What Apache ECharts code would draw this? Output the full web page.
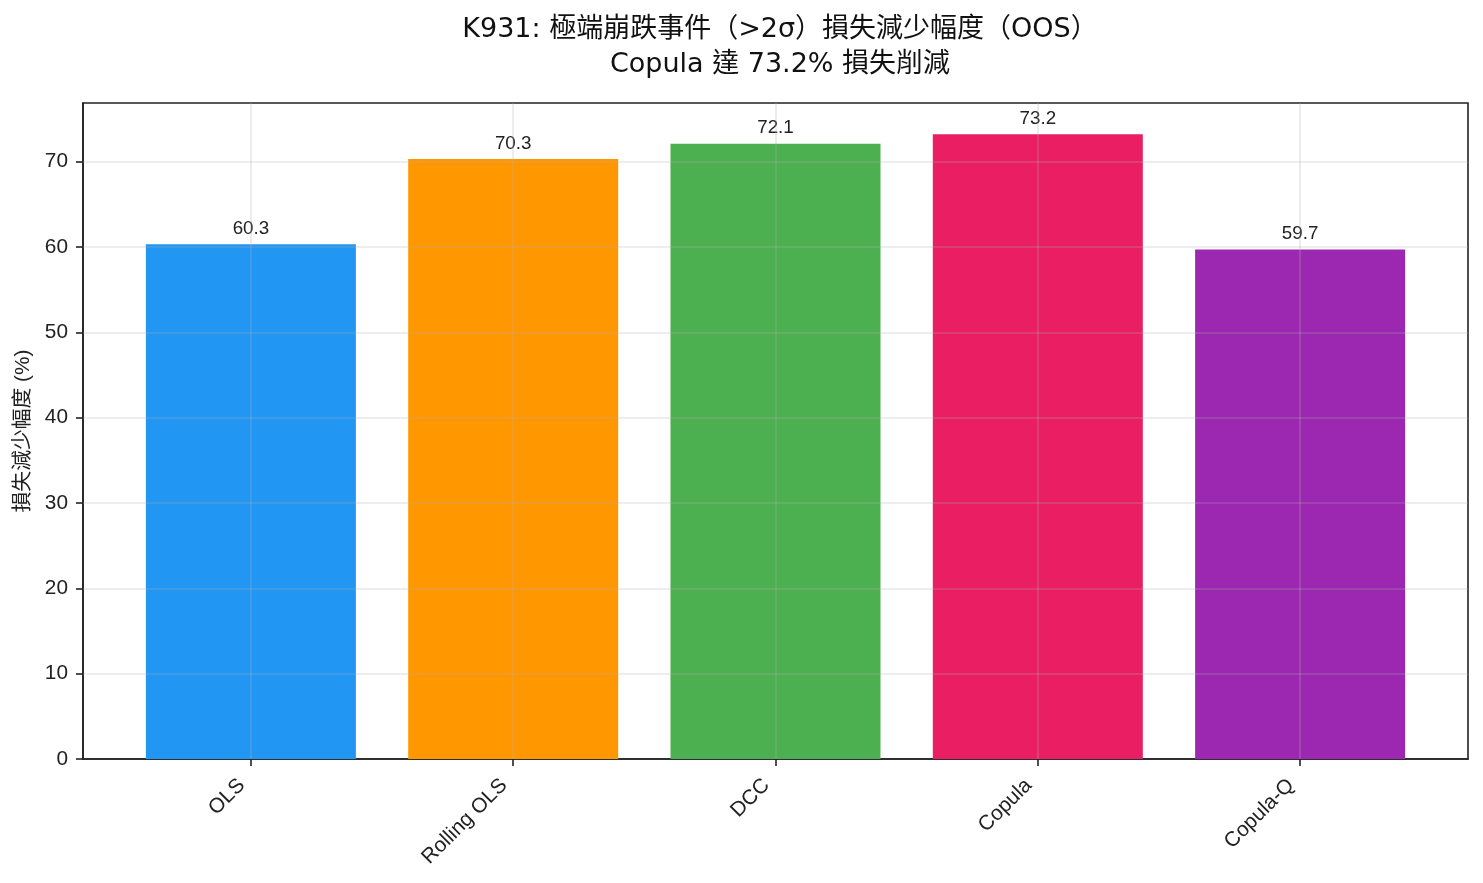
<!DOCTYPE html>
<html>
<head>
<meta charset="utf-8">
<script src="https://cdn.jsdelivr.net/npm/echarts@6/dist/echarts.min.js"></script>
<style>html,body{margin:0;padding:0;background:#fff}#c{width:1483px;height:883px}</style>
</head>
<body>
<div id="c"></div>
<script>
const categories = ['OLS', 'Rolling OLS', 'DCC', 'Copula', 'Copula-Q'];
const values = [60.3, 70.3, 72.1, 73.2, 59.7];
const barColors = ['#2196F3', '#FF9800', '#4CAF50', '#E91E63', '#9C27B0'];
const yTicks = [0, 10, 20, 30, 40, 50, 60, 70];
const titleText = 'K931: 極端崩跌事件（>2σ）損失減少幅度（OOS）\nCopula 達 73.2% 損失削減';
const yLabel = '損失減少幅度 (%)';

const FONT = '"Liberation Sans", "Noto Sans CJK TC", sans-serif';
const TITLE_FONT = '"DejaVu Sans", "Noto Sans CJK TC", sans-serif';
const xIdx = categories.map((_, i) => i);
const yMax = Math.max(...values) * 1.05;
const gridColor = 'rgba(176,176,176,0.3)';
const AX = '#222';

const chart = echarts.init(document.getElementById('c'), null, {renderer: 'canvas'});
chart.setOption({
  animation: false,
  backgroundColor: '#fff',
  textStyle: {fontFamily: FONT},
  title: {
    text: titleText,
    left: 775, top: 7, textAlign: 'center',
    textStyle: {fontFamily: TITLE_FONT, fontSize: 27, fontWeight: 'normal', color: '#111', lineHeight: 35}
  },
  grid: {left: 83, right: 15, top: 103, bottom: 124, outerBoundsMode: 'none', containLabel: false,
    show: true, borderColor: AX, borderWidth: 1.6, backgroundColor: 'transparent'},
  xAxis: {
    type: 'value', min: -0.64, max: xIdx.length - 1 + 0.64,
    splitLine: {show: false},
    axisLine: {show: true, onZero: false, lineStyle: {color: AX, width: 1.6}},
    axisTick: {show: true, customValues: xIdx, length: 7, lineStyle: {color: AX, width: 1.6}},
    axisLabel: {
      customValues: xIdx, rotate: 45, margin: 14, fontSize: 20.8, color: AX, fontFamily: FONT,
      padding: [0, 13, 0, 0],
      formatter: v => categories[Math.round(v)] || ''
    }
  },
  yAxis: {
    type: 'value', min: 0, max: yMax,
    name: yLabel, nameLocation: 'middle', nameGap: 49,
    nameTextStyle: {fontSize: 20.8, color: AX, fontFamily: FONT},
    splitLine: {show: false},
    axisLine: {show: true, onZero: false, lineStyle: {color: AX, width: 1.6}},
    axisTick: {show: true, customValues: yTicks, length: 7, lineStyle: {color: AX, width: 1.6}},
    axisLabel: {customValues: yTicks, fontSize: 20.8, color: AX, margin: 15, fontFamily: FONT}
  },
  series: [{
    type: 'bar',
    barWidth: 210,
    data: values.map((v, i) => ({value: [i, v], itemStyle: {color: barColors[i]}})),
    label: {
      show: true, position: 'top', distance: 6,
      fontSize: 18.75, color: AX, fontFamily: FONT,
      formatter: p => p.value[1].toFixed(1)
    },
    markLine: {
      silent: true, symbol: 'none', z: 5,
      label: {show: false},
      lineStyle: {color: gridColor, width: 1.6, type: 'solid'},
      data: yTicks.slice(1).map(t => ({yAxis: t})).concat(xIdx.map(i => ({xAxis: i})))
    }
  }]
});
</script>
</body>
</html>
